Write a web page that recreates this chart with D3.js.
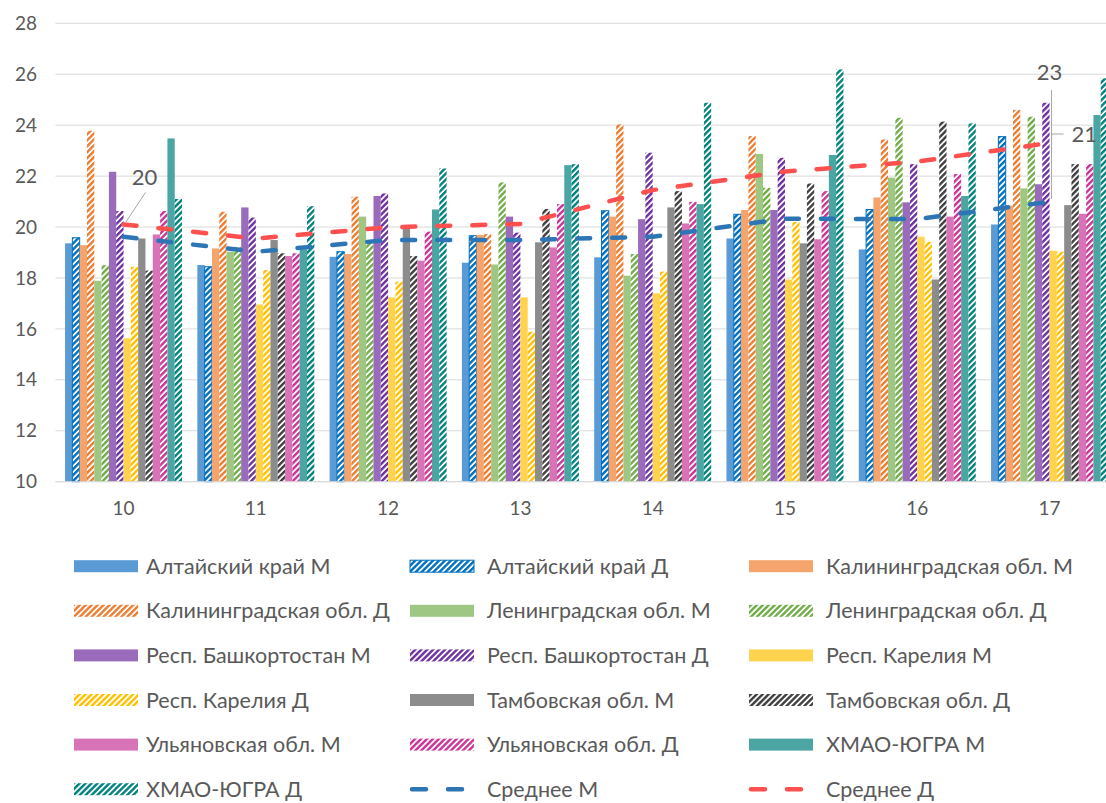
<!DOCTYPE html>
<html><head><meta charset="utf-8">
<script src="https://cdn.jsdelivr.net/npm/d3@7"></script>
<style>
body{margin:0;background:#fff;}
text{font-family:Lato,"Open Sans",sans-serif;fill:#595959;}
</style>
</head><body>
<svg id="chart" width="1106" height="803"></svg>
<script>
// ---- data ----
const categories = ["10","11","12","13","14","15","16","17"];
const yTicks = [10,12,14,16,18,20,22,24,26,28];

const altaiM   = [19.36,18.51,18.83,18.60,18.81,19.55,19.12,20.10];
const altaiD   = [19.58,18.44,19.03,19.66,20.64,20.50,20.69,23.55];
const kalinM   = [19.29,19.16,18.94,19.69,20.41,20.67,21.16,20.84];
const kalinD   = [23.78,20.60,21.19,19.72,24.03,23.57,23.44,24.60];
const leninM   = [17.89,19.03,20.41,18.53,18.09,22.87,21.94,21.52];
const leninD   = [18.50,19.22,19.49,21.75,18.94,21.54,24.29,24.33];
const bashM    = [22.17,20.77,21.22,20.41,20.31,20.67,20.97,21.68];
const bashD    = [20.63,20.37,21.32,19.78,22.92,22.72,22.47,24.88];
const karelM   = [15.63,16.96,17.24,17.24,17.40,17.94,19.62,19.07];
const karelD   = [18.44,18.31,17.85,15.89,18.25,20.20,19.42,19.03];
const tambM    = [19.55,19.49,20.04,19.40,20.77,19.36,17.94,20.86];
const tambD    = [18.29,18.97,18.86,20.71,21.41,21.71,24.14,22.47];
const ulyanM   = [19.71,18.86,18.68,19.20,20.14,19.52,20.41,20.52];
const ulyanD   = [20.63,18.97,19.82,20.90,20.99,21.41,22.08,22.47];
const hmaoM    = [23.48,19.12,20.69,22.43,20.90,22.83,21.22,24.40];
const hmaoD    = [21.10,20.82,22.30,22.47,24.88,26.19,24.07,25.84];
const avgM     = [19.62,19.03,19.49,19.49,19.62,20.33,20.31,20.99];
const avgD     = [20.10,19.55,19.99,20.12,21.45,22.18,22.57,23.30];

const barNames = ["Алтайский край М","Алтайский край Д","Калининградская обл. М","Калининградская обл. Д",
  "Ленинградская обл. М","Ленинградская обл. Д","Респ. Башкортостан М","Респ. Башкортостан Д",
  "Респ. Карелия М","Респ. Карелия Д","Тамбовская обл. М","Тамбовская обл. Д",
  "Ульяновская обл. М","Ульяновская обл. Д","ХМАО-ЮГРА М","ХМАО-ЮГРА Д"];
const barValues = [altaiM,altaiD,kalinM,kalinD,leninM,leninD,bashM,bashD,karelM,karelD,tambM,tambD,ulyanM,ulyanD,hmaoM,hmaoD];
const lineNames = ["Среднее М","Среднее Д"];
const lineValues = [avgM, avgD];

// ---- styles ----
const barColors = ["#5B9BD5","#0070C0","#F4A46C","#ED7D31","#9DC783","#70AD47","#9A6BBB","#7030A0",
  "#FFD34D","#FFC000","#8C8C8C","#404040","#D973B7","#CC3399","#4BA6A3","#00827F"];
const barHatched = barNames.map(n => n.endsWith("Д"));
const lineColors = ["#2E75B6","#FF5050"];

const svg = d3.select("#chart");
const W = 1106, H = 803;
const plotL = 57.4, plotR = 1115.7, yBottom = 481.7, yTop = 23.3;

const x0 = d3.scaleBand().domain(categories).range([plotL, plotR]).padding(0);
const groupPad = (x0.bandwidth() - 117) / 2;
const x1 = d3.scaleBand().domain(d3.range(barNames.length)).range([groupPad, x0.bandwidth() - groupPad]).padding(0);
const y = d3.scaleLinear().domain([10, 28]).range([yBottom, yTop]);

// patterns
const defs = svg.append("defs");
barColors.forEach((c, i) => {
  if (!barHatched[i]) return;
  const p = defs.append("pattern").attr("id", "hatch" + i)
    .attr("patternUnits", "userSpaceOnUse").attr("width", 4.2).attr("height", 4.2)
    .attr("patternTransform", "rotate(45)");
  p.append("rect").attr("width", 4.2).attr("height", 4.2).attr("fill", "#fff");
  p.append("rect").attr("width", 2.4).attr("height", 4.2).attr("fill", c);
});

// gridlines
svg.append("g").selectAll("line").data(yTicks).join("line")
  .attr("x1", plotL - 2).attr("x2", W)
  .attr("y1", d => y(d)).attr("y2", d => y(d))
  .attr("stroke", "#D9D9D9").attr("stroke-width", 1);

// y labels
svg.append("g").selectAll("text").data(yTicks).join("text")
  .attr("x", 37).attr("y", d => y(d)).attr("dy", "0.35em")
  .attr("text-anchor", "end").attr("font-size", 19).text(d => d);

// x labels
svg.append("g").selectAll("text").data(categories).join("text")
  .attr("x", d => x0(d) + x0.bandwidth() / 2).attr("y", 515)
  .attr("text-anchor", "middle").attr("font-size", 19).text(d => d);

// bars
const gBars = svg.append("g");
categories.forEach((cat, ci) => {
  barValues.forEach((vals, si) => {
    const v = vals[ci];
    gBars.append("rect")
      .attr("x", x0(cat) + x1(si))
      .attr("y", y(v))
      .attr("width", x1.bandwidth())
      .attr("height", y(10) - y(v))
      .attr("fill", barHatched[si] ? `url(#hatch${si})` : barColors[si])
      .attr("stroke", si === 1 ? barColors[si] : "none")
      .attr("stroke-width", si === 1 ? 1 : 0);
  });
});

// axis line
svg.append("line").attr("x1", plotL - 2).attr("x2", W).attr("y1", y(10)).attr("y2", y(10))
  .attr("stroke", "#D9D9D9").attr("stroke-width", 1);

// average lines
const line = d3.line().x((d, i) => x0(categories[i]) + x0.bandwidth() / 2).y(d => y(d));
lineValues.forEach((vals, li) => {
  svg.append("path").datum(vals).attr("d", line)
    .attr("fill", "none").attr("stroke", lineColors[li]).attr("stroke-width", 4.5)
    .attr("stroke-dasharray", "13,22").attr("stroke-linecap", "round");
});

// data labels with leader lines
const cx = i => x0(categories[i]) + x0.bandwidth() / 2;
const lead = svg.append("g").attr("stroke", "#A6A6A6").attr("fill", "none").attr("stroke-width", 1);
// "20" at first Д average
lead.append("line").attr("x1", cx(0) + 2).attr("y1", y(avgD[0]) - 2)
  .attr("x2", cx(0) + 22).attr("y2", y(avgD[0]) - 32);
svg.append("text").attr("x", cx(0) + 21).attr("y", y(avgD[0]) - 39)
  .attr("text-anchor", "middle").attr("font-size", 22).text(Math.round(avgD[0]));
// "23" last Д average
const li = 7;
lead.append("line").attr("x1", cx(li) + 2).attr("y1", y(avgD[li]) - 53)
  .attr("x2", cx(li) + 2).attr("y2", y(avgD[li]));
svg.append("text").attr("x", cx(li)).attr("y", y(avgD[li]) - 63)
  .attr("text-anchor", "middle").attr("font-size", 22).text(Math.round(avgD[li]));
// "21" last M average
lead.append("polyline").attr("points",
  `${cx(li) + 14},${y(avgD[li]) - 9} ${cx(li) + 2},${y(avgD[li]) - 9} ${cx(li) + 2},${y(avgM[li]) - 3}`);
svg.append("text").attr("x", cx(li) + 22).attr("y", y(avgD[li]) - 1)
  .attr("text-anchor", "start").attr("font-size", 22).text(Math.round(avgM[li]));

// legend
const legendItems = barNames.map((n, i) => ({name: n, type: "bar", i}))
  .concat(lineNames.map((n, i) => ({name: n, type: "line", i})));
const colSwatchX = [74, 410, 749];
const colTextX = [146, 487, 826];
const rowY0 = 566.2, rowStep = 44.6;
const lg = svg.append("g");
legendItems.forEach((it, k) => {
  const col = k % 3, row = Math.floor(k / 3);
  const sx = colSwatchX[col], cy = rowY0 + row * rowStep;
  if (it.type === "bar") {
    lg.append("rect").attr("x", sx).attr("y", cy - 6).attr("width", 64).attr("height", 12)
      .attr("fill", barHatched[it.i] ? `url(#hatch${it.i})` : barColors[it.i])
      .attr("stroke", it.i === 1 ? barColors[it.i] : "none");
  } else {
    lg.append("line").attr("x1", sx + 2).attr("x2", sx + 62).attr("y1", cy).attr("y2", cy)
      .attr("stroke", lineColors[it.i]).attr("stroke-width", 4.5)
      .attr("stroke-dasharray", "14,22").attr("stroke-linecap", "round");
  }
  lg.append("text").attr("x", colTextX[col]).attr("y", cy).attr("dy", "0.35em")
    .attr("font-size", 21.5).text(it.name);
});
</script>
</body></html>
